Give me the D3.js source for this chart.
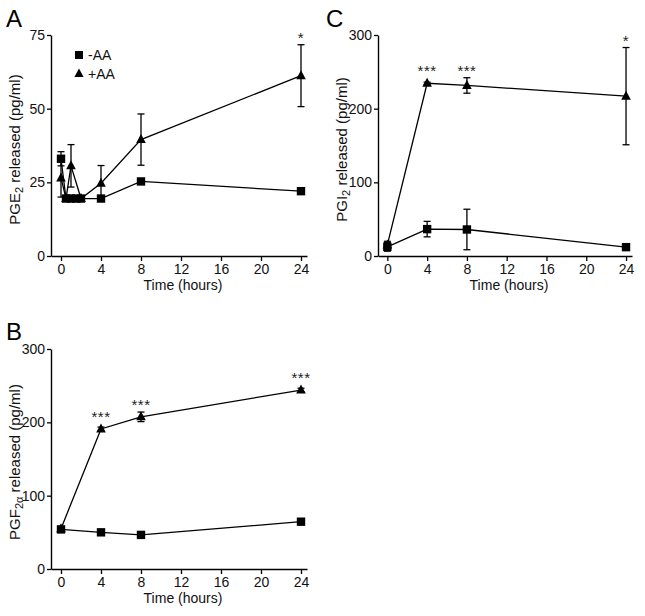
<!DOCTYPE html>
<html><head><meta charset="utf-8">
<script src="https://cdn.jsdelivr.net/npm/d3@7/dist/d3.min.js"></script>
<style>
body{margin:0;background:#fff;}
svg{display:block;font-family:"Liberation Sans",Arial,sans-serif;}
</style></head>
<body>
<script>
// ---- Data ----
const xTicks = [0, 4, 8, 12, 16, 20, 24];

// Panel A: PGE2
const timesA_minus = [0, 0.5, 1, 1.5, 2, 4, 8, 24];
const pge2_minusAA = [33, 19.5, 19.5, 19.5, 19.5, 19.5, 25.3, 22];
const pge2_minusAA_err = [2.4, 0, 0, 0, 0, 0, 0, 0];
const timesA_plus = [0, 0.5, 1, 2, 4, 8, 24];
const pge2_plusAA = [26.5, 19.5, 30.6, 19.5, 24.7, 39.5, 61.2];
const pge2_plusAA_err = [6.5, 0, 7.2, 0, 6, 8.7, 10.5];
const pge2_stars = ["", "", "", "", "", "", "*"];
const yTicksA = [0, 25, 50, 75];

// Panel B: PGF2alpha
const timesB = [0, 4, 8, 24];
const pgf_minusAA = [54, 50, 46.5, 64.5];
const pgf_minusAA_err = [0, 0, 0, 0];
const pgf_plusAA = [55, 191, 207.5, 244];
const pgf_plusAA_err = [0, 2.5, 6.5, 2.5];
const pgf_stars = ["", "***", "***", "***"];
const yTicksB = [0, 100, 200, 300];

// Panel C: PGI2
const timesC = [0, 4, 8, 24];
const pgi_minusAA = [12.5, 36.5, 36, 12];
const pgi_minusAA_err = [6, 10.5, 27.5, 3];
const pgi_plusAA = [15, 234.5, 231.5, 217];
const pgi_plusAA_err = [5, 1.5, 10.5, 66];
const pgi_stars = ["", "***", "***", "*"];
const yTicksC = [0, 100, 200, 300];

const W = 645, H = 616;
const svg = d3.select("body").append("svg").attr("width", W).attr("height", H);

function panel(cfg) {
  const g = svg.append("g");
  const x = d3.scaleLinear().domain(cfg.xDomain).range(cfg.xRange);
  const y = d3.scaleLinear().domain(cfg.yDomain).range(cfg.yRange);

  // axes
  const yAxis = d3.axisLeft(y).tickValues(cfg.yTicks).tickSize(4).tickPadding(2).tickSizeOuter(0);
  const ga = g.append("g").attr("transform", `translate(${cfg.xRange[0]},0)`).call(yAxis);
  const xAxis = d3.axisBottom(x).tickValues(xTicks).tickSize(5).tickPadding(3).tickSizeOuter(0);
  const gx = g.append("g").attr("transform", `translate(0,${cfg.yRange[0]})`).call(xAxis);
  [ga, gx].forEach(a => {
    a.select(".domain").attr("stroke", "#000").attr("stroke-width", 1.4);
    a.selectAll(".tick line").attr("stroke", "#000").attr("stroke-width", 1.3);
    a.selectAll(".tick text").attr("font-size", 14).attr("fill", "#111")
      .attr("font-family", "'Liberation Sans',Arial,sans-serif");
  });

  // axis titles
  g.append("text").attr("x", (cfg.xRange[0] + cfg.xRange[1]) / 2 + 4).attr("y", cfg.yRange[0] + 34)
    .attr("text-anchor", "middle").attr("font-size", 14).attr("fill", "#111").text("Time (hours)");
  const yt = g.append("text")
    .attr("transform", `translate(${cfg.yTitleX},${(cfg.yRange[0] + cfg.yRange[1]) / 2 + cfg.yTitleShift}) rotate(-90)`)
    .attr("text-anchor", "middle").attr("font-size", 15).attr("fill", "#111");
  yt.append("tspan").text(cfg.yLabel[0]);
  yt.append("tspan").attr("font-size", 11).attr("dy", 3).text(cfg.yLabel[1]);
  yt.append("tspan").attr("dy", -3).text(cfg.yLabel[2]);

  // panel letter
  g.append("text").attr("x", cfg.letterX).attr("y", cfg.letterY).attr("font-size", 24)
    .attr("fill", "#000").text(cfg.letter);

  const line = d3.line().x(d => x(d.t)).y(d => y(d.v));
  cfg.series.forEach(s => {
    const pts = s.t.map((t, i) => ({ t, v: s.v[i], e: s.e[i] }));
    g.append("path").datum(pts).attr("d", line).attr("fill", "none")
      .attr("stroke", "#000").attr("stroke-width", 1.3);
    // error bars
    pts.filter(p => p.e > 0).forEach(p => {
      const cx = x(p.t);
      g.append("line").attr("x1", cx).attr("x2", cx).attr("y1", y(p.v - p.e)).attr("y2", y(p.v + p.e))
        .attr("stroke", "#000").attr("stroke-width", 1.3);
      [p.v - p.e, p.v + p.e].forEach(val => {
        g.append("line").attr("x1", cx - 3.5).attr("x2", cx + 3.5).attr("y1", y(val)).attr("y2", y(val))
          .attr("stroke", "#000").attr("stroke-width", 1.3);
      });
    });
  });
  cfg.series.forEach(s => {
    const pts = s.t.map((t, i) => ({ t, v: s.v[i] }));
    pts.forEach(p => {
      const cx = x(p.t), cy = y(p.v);
      if (s.shape === "square") {
        g.append("rect").attr("x", cx - 4.2).attr("y", cy - 4.2).attr("width", 8.4).attr("height", 8.4).attr("fill", "#000");
      } else {
        g.append("path").attr("d", `M${cx},${cy - 5.5}L${cx + 4.8},${cy + 3.5}L${cx - 4.8},${cy + 3.5}Z`).attr("fill", "#000");
      }
    });
  });
  // significance stars
  if (cfg.stars) {
    const s = cfg.series[cfg.starSeries];
    cfg.stars.forEach((st, i) => {
      if (!st) return;
      const top = Math.min(y(s.v[i] + s.e[i]), y(s.v[i]) - 5);
      g.append("text").attr("x", x(s.t[i])).attr("y", top - 2).attr("text-anchor", "middle")
        .attr("font-size", 15).attr("letter-spacing", 0.5).attr("fill", "#222").text(st);
    });
  }
  return { x, y, g };
}

panel({
  letter: "A", letterX: 6, letterY: 27,
  xDomain: [-1, 24.6], xRange: [51, 307],
  yDomain: [0, 75], yRange: [256, 35], yTicks: yTicksA,
  yTitleX: 20, yTitleShift: 4, yLabel: ["PGE", "2", " released (pg/ml)"],
  series: [
    { t: timesA_minus, v: pge2_minusAA, e: pge2_minusAA_err, shape: "square" },
    { t: timesA_plus, v: pge2_plusAA, e: pge2_plusAA_err, shape: "triangle" }
  ],
  stars: pge2_stars, starSeries: 1
});

// legend in panel A
const legend = [{ label: "-AA", shape: "square" }, { label: "+AA", shape: "triangle" }];
legend.forEach((l, i) => {
  const cy = 55 + i * 18.5, cx = 79;
  if (l.shape === "square") svg.append("rect").attr("x", cx - 4).attr("y", cy - 4).attr("width", 8).attr("height", 8).attr("fill", "#000");
  else svg.append("path").attr("d", `M${cx},${cy - 5}L${cx + 4.6},${cy + 3.5}L${cx - 4.6},${cy + 3.5}Z`).attr("fill", "#000");
  svg.append("text").attr("x", 88).attr("y", cy + 5).attr("font-size", 14).attr("fill", "#111").text(l.label);
});

panel({
  letter: "B", letterX: 6, letterY: 340,
  xDomain: [-1, 24.6], xRange: [51, 307],
  yDomain: [0, 300], yRange: [569, 349], yTicks: yTicksB,
  yTitleX: 20, yTitleShift: 3, yLabel: ["PGF", "2\u03B1", " released (pg/ml)"],
  series: [
    { t: timesB, v: pgf_minusAA, e: pgf_minusAA_err, shape: "square" },
    { t: timesB, v: pgf_plusAA, e: pgf_plusAA_err, shape: "triangle" }
  ],
  stars: pgf_stars, starSeries: 1
});

panel({
  letter: "C", letterX: 326, letterY: 27,
  xDomain: [-0.94, 24.6], xRange: [378, 632],
  yDomain: [0, 300], yRange: [256, 35], yTicks: yTicksC,
  yTitleX: 347, yTitleShift: 4, yLabel: ["PGI", "2", " released (pg/ml)"],
  series: [
    { t: timesC, v: pgi_minusAA, e: pgi_minusAA_err, shape: "square" },
    { t: timesC, v: pgi_plusAA, e: pgi_plusAA_err, shape: "triangle" }
  ],
  stars: pgi_stars, starSeries: 1
});
</script>
</body></html>
